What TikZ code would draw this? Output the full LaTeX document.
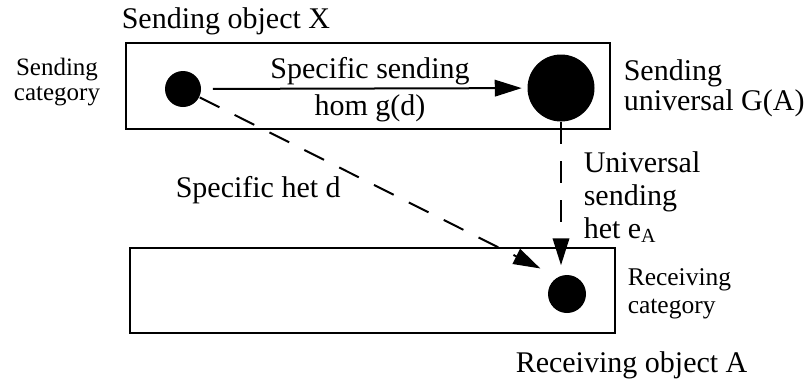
\documentclass[tikz,border=0pt]{standalone}
\usepackage{fontspec}
\setmainfont{Liberation Serif}
\usetikzlibrary{arrows.meta}

\begin{document}
\begin{tikzpicture}[x=0.4pt,y=-0.4pt,semithick]
        \tikzstyle{catbox}=[draw=black, line width=1.1pt]
        \tikzstyle{objdot}=[circle, fill=black, inner sep=0pt]
        \tikzstyle{biglbl}=[inner sep=0pt, font=\fontsize{12}{14.8}\selectfont]
        \tikzstyle{smalllbl}=[inner sep=0pt, font=\fontsize{10.2}{11}\selectfont]
        \tikzstyle{homarrow}=[-{Triangle[length=10.8pt,width=6.6pt]}, line width=0.8pt]
        \tikzstyle{hetarrow}=[homarrow, dash pattern=on 8.8pt off 6.8pt]

        \useasboundingbox (0,0) rectangle (805,381);

        % the two categories
        \draw[catbox] (126,43) rectangle (610,129);
        \draw[catbox] (130,248) rectangle (615,333);

        % objects
        \node[objdot, minimum size=14.4pt] (X) at (183,89){};
        \node[objdot, minimum size=26.8pt] (GA) at (561,88){};
        \node[objdot, minimum size=15.2pt] (A) at (567,294){};

        \draw[homarrow, shorten <=4.4pt, shorten >=2pt] (X) -- (GA);
        \draw[hetarrow, shorten >=3.6pt] (GA) -- (GA |- A.north);
        \draw[hetarrow, shorten >=7.5pt] (X) -- (A.120);

        % labels (base = last line)
        \node[biglbl, anchor=base west] (objX) at (121,28){Sending object X};
        \node[smalllbl, align=center, anchor=base, font=\fontsize{10}{9.8}\selectfont] (sendcat) at (57,100){Sending\\category};
        \node[biglbl, align=center, anchor=base] (homlbl) at (370,115){Specific sending\\hom g(d)};
        \node[biglbl, align=left, anchor=base west, font=\fontsize{12}{10.8}\selectfont] (unilbl) at (623,110){Sending\\universal G(A)};
        \node[biglbl, align=left, anchor=base west, font=\fontsize{12}{13.2}\selectfont] (eAlbl) at (583,238){Universal\\sending\\het e\textsubscript{A}};
        \node[biglbl, anchor=base west] (hetlbl) at (175,197){Specific het d};
        \node[smalllbl, align=left, anchor=base west] (reccat) at (627,313){Receiving\\category};
        \node[biglbl, anchor=base west] (objA) at (515,372){Receiving object A};

    \end{tikzpicture}
\end{document}
